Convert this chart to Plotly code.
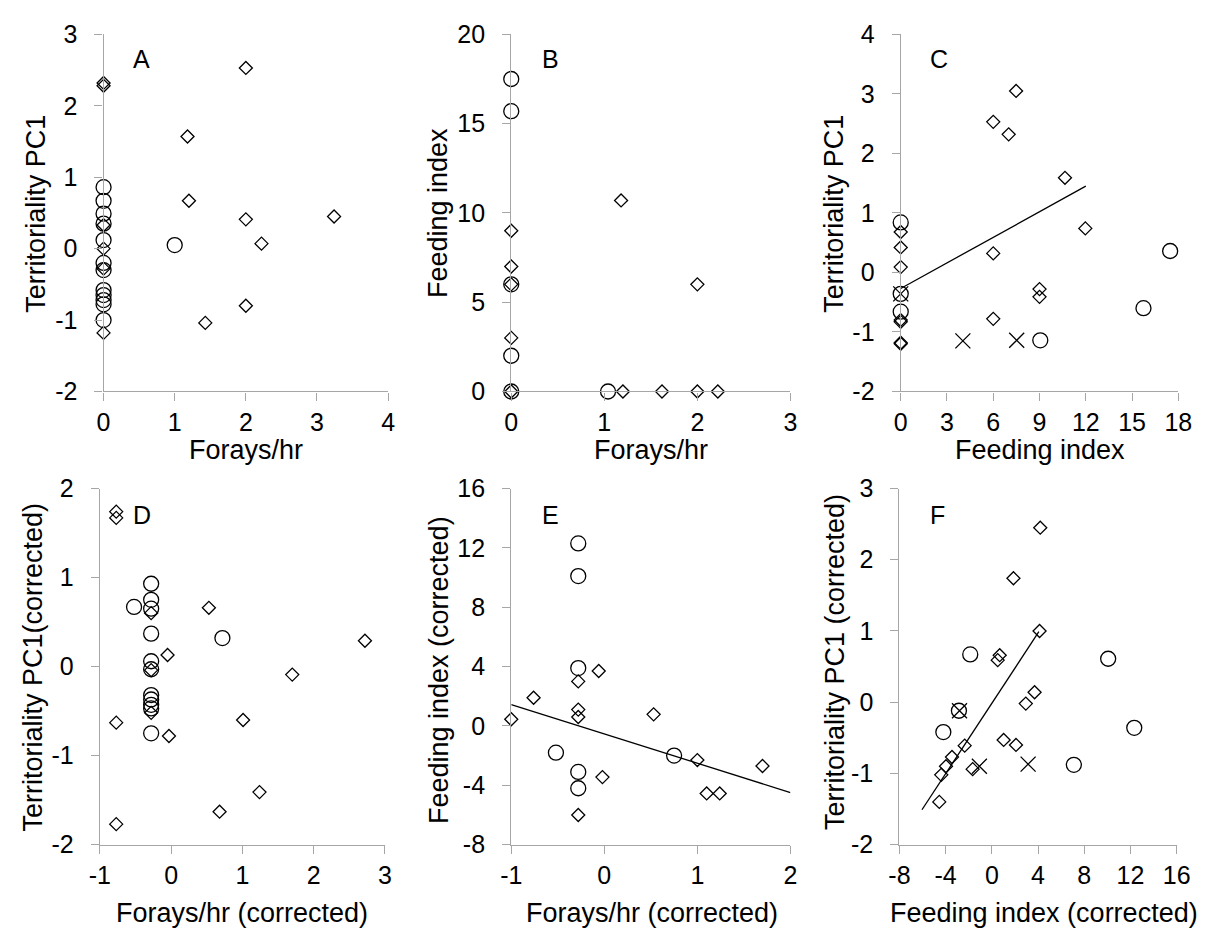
import plotly.graph_objects as go

# ---------------- Data ----------------
# Panel A: Forays/hr vs Territoriality PC1
a_circle_x = [0, 0, 0, 0, 0, 0, 0, 0, 0, 0, 0, 0, 1.0]
a_circle_y = [0.86, 0.67, 0.49, 0.35, 0.12, -0.20, -0.30, -0.58, -0.65, -0.72, -0.78, -1.00, 0.05]
a_diamond_x = [0, 0, 0, 0, 0, 0, 2.0, 1.18, 1.20, 2.0, 3.24, 2.22, 2.0, 1.43]
a_diamond_y = [2.32, 2.28, 0.33, 0.0, -0.28, -1.18, 2.53, 1.57, 0.67, 0.41, 0.45, 0.07, -0.80, -1.04]

# Panel B: Forays/hr vs Feeding index
b_circle_x = [0, 0, 0, 0, 0, 1.04]
b_circle_y = [17.5, 15.7, 6.0, 2.0, 0, 0]
b_diamond_x = [0, 0, 0, 0, 0, 1.18, 2.0, 1.2, 1.62, 2.0, 2.22]
b_diamond_y = [9.0, 7.0, 6.0, 3.0, 0, 10.7, 6.0, 0, 0, 0, 0]

# Panel C: Feeding index vs Territoriality PC1
c_circle_x = [0, 0, 0, 9.05, 15.74, 17.47]
c_circle_y = [0.84, -0.36, -0.66, -1.14, -0.60, 0.36]
c_diamond_x = [0, 0, 0, 0, 0, 0, 0, 7.48, 6.0, 7.0, 10.65, 11.97, 6.0, 9.0, 9.0, 6.0]
c_diamond_y = [0.68, 0.42, 0.09, -0.80, -0.83, -1.18, -1.20, 3.05, 2.53, 2.32, 1.59, 0.74, 0.32, -0.28, -0.41, -0.78]
c_cross_x = [0, 4.03, 7.52]
c_cross_y = [-0.36, -1.15, -1.14]
c_trend_x = [0, 12]
c_trend_y = [-0.27, 1.45]

# Panel D: Forays/hr (corrected) vs Territoriality PC1 (corrected)
d_circle_x = [-0.28, -0.28, -0.52, -0.28, -0.28, -0.28, -0.28, -0.28, -0.28, -0.28, -0.28, -0.28, 0.72]
d_circle_y = [0.93, 0.75, 0.67, 0.65, 0.37, 0.06, -0.03, -0.32, -0.37, -0.43, -0.47, -0.75, 0.32]
d_diamond_x = [-0.77, -0.77, -0.28, -0.28, -0.28, 0.53, 2.72, -0.05, 1.70, -0.77, 1.01, -0.03, 1.24, 0.68, -0.77]
d_diamond_y = [1.74, 1.67, 0.60, -0.04, -0.52, 0.66, 0.29, 0.13, -0.09, -0.63, -0.60, -0.78, -1.41, -1.63, -1.77]

# Panel E: Forays/hr (corrected) vs Feeding index (corrected)
e_circle_x = [-0.28, -0.28, -0.28, -0.28, -0.28, -0.52, 0.75]
e_circle_y = [12.3, 10.1, 3.9, -3.1, -4.2, -1.8, -2.0]
e_diamond_x = [-0.28, -0.28, -0.28, -0.28, -0.06, -0.76, -1.0, -0.02, 0.53, 1.0, 1.10, 1.24, 1.70]
e_diamond_y = [3.0, 1.1, 0.6, -6.0, 3.7, 1.9, 0.45, -3.45, 0.78, -2.3, -4.55, -4.55, -2.7]
e_trend_x = [-1, 2]
e_trend_y = [1.44, -4.49]

# Panel F: Feeding index (corrected) vs Territoriality PC1 (corrected)
f_circle_x = [-1.87, 10.07, -2.85, 12.33, -4.2, 7.1]
f_circle_y = [0.67, 0.61, -0.12, -0.36, -0.42, -0.88]
f_diamond_x = [4.19, 1.87, 4.13, 0.68, 0.51, 3.70, 2.94, 1.02, 2.09, -2.35, -3.45, -3.97, -4.38, -1.66, -4.55]
f_diamond_y = [2.45, 1.74, 1.00, 0.66, 0.59, 0.14, -0.02, -0.53, -0.60, -0.61, -0.77, -0.90, -1.02, -0.94, -1.40]
f_cross_x = [-2.80, -1.08, 3.14]
f_cross_y = [-0.12, -0.90, -0.87]
f_trend_x = [-6.05, 4.07]
f_trend_y = [-1.51, 0.99]

# Axis definitions
x_ranges = [[0, 4], [0, 3], [0, 18], [-1, 3], [-1, 2], [-8, 16]]
x_ticks = [[0, 1, 2, 3, 4], [0, 1, 2, 3], [0, 3, 6, 9, 12, 15, 18],
           [-1, 0, 1, 2, 3], [-1, 0, 1, 2], [-8, -4, 0, 4, 8, 12, 16]]
x_ticktext = [["0", "1", "2", "3", "4"], ["0", "1", "2", "3"], ["0", "3", "6", "9", "12", "15", "18"],
              ["-1", "0", "1", "2", "3"], ["-1", "0", "1", "2"], ["-8", "-4", "0", "4", "8", "12", "16"]]
y_ranges = [[-2, 3], [0, 20], [-2, 4], [-2, 2], [-8, 16], [-2, 3]]
y_ticks = [[-2, -1, 0, 1, 2, 3], [0, 5, 10, 15, 20], [-2, -1, 0, 1, 2, 3, 4],
           [-2, -1, 0, 1, 2], [-8, -4, 0, 4, 8, 12, 16], [-2, -1, 0, 1, 2, 3]]
y_ticktext = [["-2", "-1", "0", "1", "2", "3"], ["0", "5", "10", "15", "20"],
              ["-2", "-1", "0", "1", "2", "3", "4"], ["-2", "-1", "0", "1", "2"],
              ["-8", "-4", "0", "4", "8", "12", "16"], ["-2", "-1", "0", "1", "2", "3"]]
x_titles = ["Forays/hr", "Forays/hr", "Feeding index",
            "Forays/hr (corrected)", "Forays/hr (corrected)", "Feeding index (corrected)"]
y_titles = ["Territoriality PC1", "Feeding index", "Territoriality PC1",
            "Territoriality PC1(corrected)", "Feeding index (corrected)", "Territoriality PC1 (corrected)"]
panel_letters = ["A", "B", "C", "D", "E", "F"]

# ---------------- Layout geometry (pixels) ----------------
W, H = 1222, 945
x_px = [(94.5, 385), (510.7, 795.7), (908.3, 1191.7), (90.7, 381.7), (510.7, 795.7), (907, 1190)]
y_px = [(21, 389), (21, 389), (21, 389), (489, 856), (489, 856), (489, 856)]
ytitle_px = [(25.5, 206), (436, 205), (840, 206), (23, 673), (437, 676), (841, 668)]
xtitle_px = [(240, 449), (653, 449), (1050, 449), (236, 926), (654, 926), (1055, 926)]
letter_pos = [(0.098, 0.932), (0.103, 0.932), (0.098, 0.932), (0.111, 0.926), (0.103, 0.926), (0.102, 0.926)]

FONT = "'Liberation Sans', Arial, sans-serif"
AX_COLOR = "#a6a6a6"

fig = go.Figure()

panels = [
    (a_circle_x, a_circle_y, a_diamond_x, a_diamond_y, None, None, None, None),
    (b_circle_x, b_circle_y, b_diamond_x, b_diamond_y, None, None, None, None),
    (c_circle_x, c_circle_y, c_diamond_x, c_diamond_y, c_cross_x, c_cross_y, c_trend_x, c_trend_y),
    (d_circle_x, d_circle_y, d_diamond_x, d_diamond_y, None, None, None, None),
    (e_circle_x, e_circle_y, e_diamond_x, e_diamond_y, None, None, e_trend_x, e_trend_y),
    (f_circle_x, f_circle_y, f_diamond_x, f_diamond_y, f_cross_x, f_cross_y, f_trend_x, f_trend_y),
]

annotations = []
for i, (cx, cy, dx, dy, xx, xy, tx, ty) in enumerate(panels):
    n = i + 1
    xa = "x" if n == 1 else f"x{n}"
    ya = "y" if n == 1 else f"y{n}"
    if tx is not None:
        fig.add_trace(go.Scatter(x=tx, y=ty, mode="lines", xaxis=xa, yaxis=ya,
                                 line=dict(color="black", width=1.3), showlegend=False,
                                 cliponaxis=False))
    fig.add_trace(go.Scatter(x=cx, y=cy, mode="markers", xaxis=xa, yaxis=ya,
                             marker=dict(symbol="circle-open", size=15, color="black",
                                         line=dict(width=1.3, color="black")),
                             showlegend=False, cliponaxis=False))
    fig.add_trace(go.Scatter(x=dx, y=dy, mode="markers", xaxis=xa, yaxis=ya,
                             marker=dict(symbol="diamond-open", size=10, color="black",
                                         line=dict(width=1.3, color="black")),
                             showlegend=False, cliponaxis=False))
    if xx is not None:
        fig.add_trace(go.Scatter(x=xx, y=xy, mode="markers", xaxis=xa, yaxis=ya,
                                 marker=dict(symbol="x-thin-open", size=15, color="black",
                                             line=dict(width=1.3, color="black")),
                                 showlegend=False, cliponaxis=False))

    x0, x1 = x_px[i]
    y0, y1 = y_px[i]
    axis_common = dict(showline=True, linecolor=AX_COLOR, linewidth=1.3,
                       ticks="outside", ticklen=8, tickcolor=AX_COLOR, tickwidth=1.3,
                       showgrid=False, zeroline=False, fixedrange=True,
                       tickfont=dict(family=FONT, size=25, color="black"))
    fig.layout[f"xaxis{'' if n == 1 else n}"] = dict(
        domain=[x0 / W, x1 / W], anchor=ya, range=x_ranges[i],
        tickmode="array", tickvals=x_ticks[i], ticktext=x_ticktext[i],
        ticklabelstandoff=0, **axis_common)
    fig.layout[f"yaxis{'' if n == 1 else n}"] = dict(
        domain=[1 - y1 / H, 1 - y0 / H], anchor=xa, range=y_ranges[i],
        tickmode="array", tickvals=y_ticks[i], ticktext=y_ticktext[i],
        ticklabelstandoff=12, **axis_common)

    # panel letter
    annotations.append(dict(text=panel_letters[i], xref=f"{xa} domain", yref=f"{ya} domain",
                            x=letter_pos[i][0], y=letter_pos[i][1], xanchor="left", yanchor="middle",
                            showarrow=False, font=dict(family=FONT, size=25, color="black")))
    # axis titles
    tx_, ty_ = xtitle_px[i]
    annotations.append(dict(text=x_titles[i], xref="paper", yref="paper",
                            x=tx_ / W, y=1 - ty_ / H, xanchor="center", yanchor="middle",
                            showarrow=False, font=dict(family=FONT, size=27, color="black")))
    ux, uy = ytitle_px[i]
    annotations.append(dict(text=y_titles[i], xref="paper", yref="paper", textangle=-90,
                            x=ux / W, y=1 - uy / H, xanchor="center", yanchor="middle",
                            showarrow=False, font=dict(family=FONT, size=27, color="black")))

fig.update_layout(width=W, height=H, margin=dict(l=0, r=0, t=0, b=0),
                  paper_bgcolor="white", plot_bgcolor="white",
                  annotations=annotations, showlegend=False)

fig.write_html("out.html", config={"displayModeBar": False})
